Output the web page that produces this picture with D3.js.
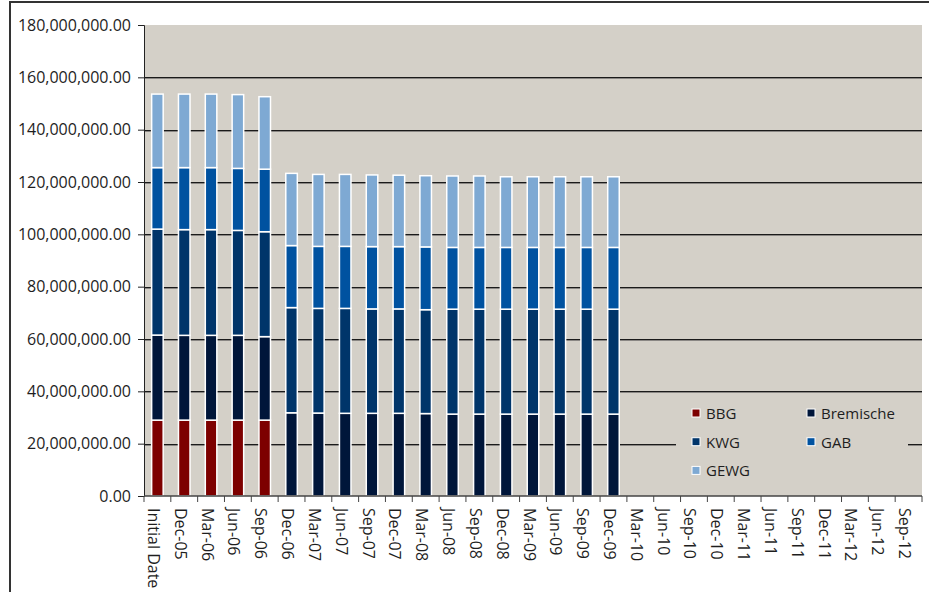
<!DOCTYPE html>
<html lang="en">
    <head>
        <meta charset="UTF-8" />
        <title>Portfolio by Originator</title>
        <script src="https://d3js.org/d3.v7.min.js"></script>
        <style>
            body {
                margin: 0;
                background: #fff;
            }
            text {
                font-family: 'Open Sans', sans-serif;
                fill: #1e1e1e;
            }
        </style>
    </head>
    <body>
        <svg width="929" height="592"></svg>

        <script>
            // categories (quarter ends)
            const periods = [
                'Initial Date', 'Dec-05', 'Mar-06', 'Jun-06', 'Sep-06', 'Dec-06', 'Mar-07', 'Jun-07',
                'Sep-07', 'Dec-07', 'Mar-08', 'Jun-08', 'Sep-08', 'Dec-08', 'Mar-09', 'Jun-09',
                'Sep-09', 'Dec-09', 'Mar-10', 'Jun-10', 'Sep-10', 'Dec-10', 'Mar-11', 'Jun-11',
                'Sep-11', 'Dec-11', 'Mar-12', 'Jun-12', 'Sep-12',
            ];
            const seriesNames = ['BBG', 'Bremische', 'KWG', 'GAB', 'GEWG'];

            // values in millions (later periods have no bars)
            const bbg = [29.0, 29.0, 29.0, 29.0, 29.0, 0, 0, 0, 0, 0, 0, 0, 0, 0, 0, 0, 0, 0];
            const bremische = [32.5, 32.4, 32.4, 32.4, 31.9, 31.8, 31.7, 31.6, 31.6, 31.6, 31.5, 31.3, 31.3, 31.3, 31.3, 31.3, 31.3, 31.3];
            const kwg = [40.5, 40.4, 40.4, 40.1, 40.1, 40.2, 40.0, 40.1, 39.9, 39.9, 39.7, 40.1, 40.1, 40.1, 40.1, 40.1, 40.1, 40.1];
            const gab = [23.5, 23.7, 23.7, 23.7, 23.9, 23.7, 23.7, 23.7, 23.8, 23.8, 24.0, 23.6, 23.6, 23.6, 23.6, 23.6, 23.6, 23.6];
            const gewg = [28.1, 28.1, 28.1, 28.2, 27.7, 27.6, 27.5, 27.5, 27.4, 27.3, 27.2, 27.3, 27.3, 27.0, 27.0, 27.0, 27.0, 27.0];

            const yTicks = [0, 20e6, 40e6, 60e6, 80e6, 100e6, 120e6, 140e6, 160e6, 180e6];
            const colors = ['#7d0000', '#00163a', '#00356a', '#0052a0', '#7ea9d3'];

            const svg = d3.select('svg');
            const margin = { top: 25, right: 7, bottom: 96, left: 144 };
            const width = 929 - margin.left - margin.right;
            const height = 592 - margin.top - margin.bottom;

            // outer frame (left + top edges only)
            svg.append('path')
                .attr('d', 'M10,592 V2 H929')
                .attr('fill', 'none')
                .attr('stroke', '#333')
                .attr('stroke-width', 2);

            const g = svg.append('g').attr('transform', `translate(${margin.left},${margin.top})`);

            const x = d3.scaleBand().domain(periods).range([0, width]).paddingInner(0.57).paddingOuter(0.285);
            const y = d3.scaleLinear().domain([0, 180e6]).range([height, 0]);
            const band = d3.scaleBand().domain(periods).range([0, width]);

            const rows = bremische.map((_, i) => ({
                period: periods[i],
                BBG: bbg[i] * 1e6,
                Bremische: bremische[i] * 1e6,
                KWG: kwg[i] * 1e6,
                GAB: gab[i] * 1e6,
                GEWG: gewg[i] * 1e6,
            }));
            const stacked = d3.stack().keys(seriesNames)(rows);

            g.append('rect')
                .attr('width', width)
                .attr('height', height)
                .attr('fill', '#d4d0c8');

            // gridlines: dark line with a grey shadow below
            const grid = yTicks.filter((t) => t > 0 && t < 180e6);
            g.selectAll('.grid')
                .data(grid)
                .enter()
                .append('line')
                .attr('x1', 0)
                .attr('x2', width)
                .attr('y1', (d) => Math.round(y(d)) + 1.5)
                .attr('y2', (d) => Math.round(y(d)) + 1.5)
                .attr('stroke', '#8a8784');
            g.selectAll('.grid2')
                .data(grid)
                .enter()
                .append('line')
                .attr('x1', 0)
                .attr('x2', width)
                .attr('y1', (d) => Math.round(y(d)) + 0.5)
                .attr('y2', (d) => Math.round(y(d)) + 0.5)
                .attr('stroke', '#1a1a1a');

            // bars
            g.selectAll('.series')
                .data(stacked)
                .enter()
                .append('g')
                .attr('fill', (d, i) => colors[i])
                .selectAll('rect')
                .data((d) => d.filter((p) => p[1] - p[0] > 0))
                .enter()
                .append('rect')
                .attr('x', (d) => x(d.data.period))
                .attr('width', x.bandwidth())
                .attr('y', (d) => y(d[1]))
                .attr('height', (d) => y(d[0]) - y(d[1]))
                .attr('stroke', '#fff')
                .attr('stroke-width', 1.5);

            // y axis
            const yAxis = g.append('g').call(
                d3.axisLeft(y)
                    .tickValues(yTicks)
                    .tickSize(6)
                    .tickPadding(7)
                    .tickFormat((d) => d3.format(',.2f')(d))
            );
            yAxis.select('.domain').attr('stroke', '#222');
            yAxis.selectAll('.tick line').attr('stroke', '#222');
            yAxis.selectAll('text').style('font-size', '16px').attr('fill', '#1e1e1e');

            // x axis with ticks between categories
            const xAxis = g.append('g').attr('transform', `translate(0,${height})`);
            xAxis.append('line').attr('x1', 0).attr('x2', width).attr('stroke', '#444').attr('stroke-width', 1.5);
            xAxis.selectAll('.xtick')
                .data(periods.concat(['end']))
                .enter()
                .append('line')
                .attr('x1', (d, i) => i * band.step())
                .attr('x2', (d, i) => i * band.step())
                .attr('y1', 0)
                .attr('y2', 6)
                .attr('stroke', '#444');
            xAxis.selectAll('.xlabel')
                .data(periods)
                .enter()
                .append('text')
                .attr('transform', (d) => `translate(${band(d) + band.bandwidth() / 2 - 9.5},12) rotate(90)`)
                .attr('text-anchor', 'start')
                .style('font-size', '16px')
                .text((d) => d);

            // legend
            const legend = g.append('g').attr('transform', `translate(${676 - margin.left},${394 - margin.top})`);
            legend.append('rect').attr('width', 232).attr('height', 94).attr('fill', '#d4d0c8');
            const legendItems = legend
                .selectAll('.item')
                .data(seriesNames)
                .enter()
                .append('g')
                .attr('transform', (d, i) => `translate(${16 + (i % 2) * 115},${15 + Math.floor(i / 2) * 28.7})`);
            legendItems
                .append('rect')
                .attr('width', 8)
                .attr('height', 8)
                .attr('fill', (d, i) => colors[i])
                .attr('stroke', '#fff')
                .attr('stroke-width', 1);
            legendItems
                .append('text')
                .attr('x', 14)
                .attr('y', 10)
                .style('font-size', '15px')
                .text((d) => d);
        </script>
    </body>
</html>
